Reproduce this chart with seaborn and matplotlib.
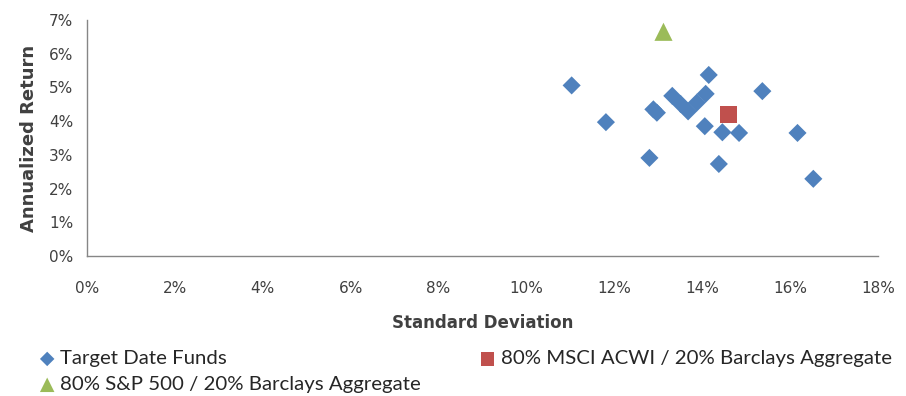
import pandas as pd
import matplotlib
matplotlib.use("Agg")
import matplotlib.pyplot as plt
import seaborn as sns
from matplotlib.ticker import MultipleLocator, FuncFormatter

# Target date funds: standard deviation (%) and annualized return (%)
fund_std = [11.03, 11.81, 12.89, 12.97, 12.80, 13.32, 13.51, 13.68, 13.88,
            14.08, 14.15, 14.06, 14.46, 14.84, 14.38, 15.37, 16.17, 16.53]
fund_ret = [5.06, 3.97, 4.35, 4.25, 2.91, 4.75, 4.51, 4.29, 4.55,
            4.81, 5.37, 3.85, 3.67, 3.65, 2.73, 4.89, 3.65, 2.29]

# Benchmarks
acwi_std = [14.61]
acwi_ret = [4.19]
sp_std = [13.12]
sp_ret = [6.65]

fund_label = "Target Date Funds"
acwi_label = "80% MSCI ACWI / 20% Barclays Aggregate"
sp_label = "80% S&P 500 / 20% Barclays Aggregate"

sns.set_style("white")
plt.rcParams["font.family"] = ["DejaVu Sans"]

fig = plt.figure(figsize=(9.06, 3.96), dpi=100)
ax = fig.add_axes([0.096, 0.3535, 0.873, 0.596])

sns.scatterplot(x=fund_std, y=fund_ret, ax=ax, marker="D", s=85,
                color="#4F81BD", edgecolor="none", label=fund_label, zorder=3)
sns.scatterplot(x=acwi_std, y=acwi_ret, ax=ax, marker="s", s=150,
                color="#C0504D", edgecolor="none", label=acwi_label, zorder=4)
sns.scatterplot(x=sp_std, y=sp_ret, ax=ax, marker="^", s=170,
                color="#9BBB59", edgecolor="none", label=sp_label, zorder=4)

ax.set_xlim(0, 18)
ax.set_ylim(0, 7)
ax.xaxis.set_major_locator(MultipleLocator(2))
ax.yaxis.set_major_locator(MultipleLocator(1))
pct = FuncFormatter(lambda v, p: f"{v:.0f}%")
ax.xaxis.set_major_formatter(pct)
ax.yaxis.set_major_formatter(pct)

for side in ["top", "right"]:
    ax.spines[side].set_visible(False)
for side in ["left", "bottom"]:
    ax.spines[side].set_color("#868686")
    ax.spines[side].set_linewidth(1.0)
ax.tick_params(axis="both", direction="out", length=5, width=1,
               color="#868686", labelsize=11, labelcolor="#404040", pad=6)
ax.tick_params(axis="x", pad=13)
ax.tick_params(axis="y", pad=5)

ax.set_xlabel("Standard Deviation", fontsize=12, fontweight="bold",
              color="#404040", labelpad=13)
ax.set_ylabel("Annualized Return", fontsize=13, fontweight="bold",
              color="#404040", labelpad=8)

handles, labels = ax.get_legend_handles_labels()
order = [labels.index(fund_label), labels.index(sp_label), labels.index(acwi_label)]
ax.legend([handles[i] for i in order], [labels[i] for i in order],
          ncol=2, frameon=False, loc="upper left",
          bbox_to_anchor=(38 / 906, 1 - 350 / 396), bbox_transform=fig.transFigure,
          prop={"family": "Lato", "size": 14.7},
          handletextpad=0.2, handlelength=0.9, columnspacing=2.8,
          labelspacing=0.42, markerscale=0.8, borderaxespad=0, borderpad=0)

fig.savefig("out.png", dpi=100)
